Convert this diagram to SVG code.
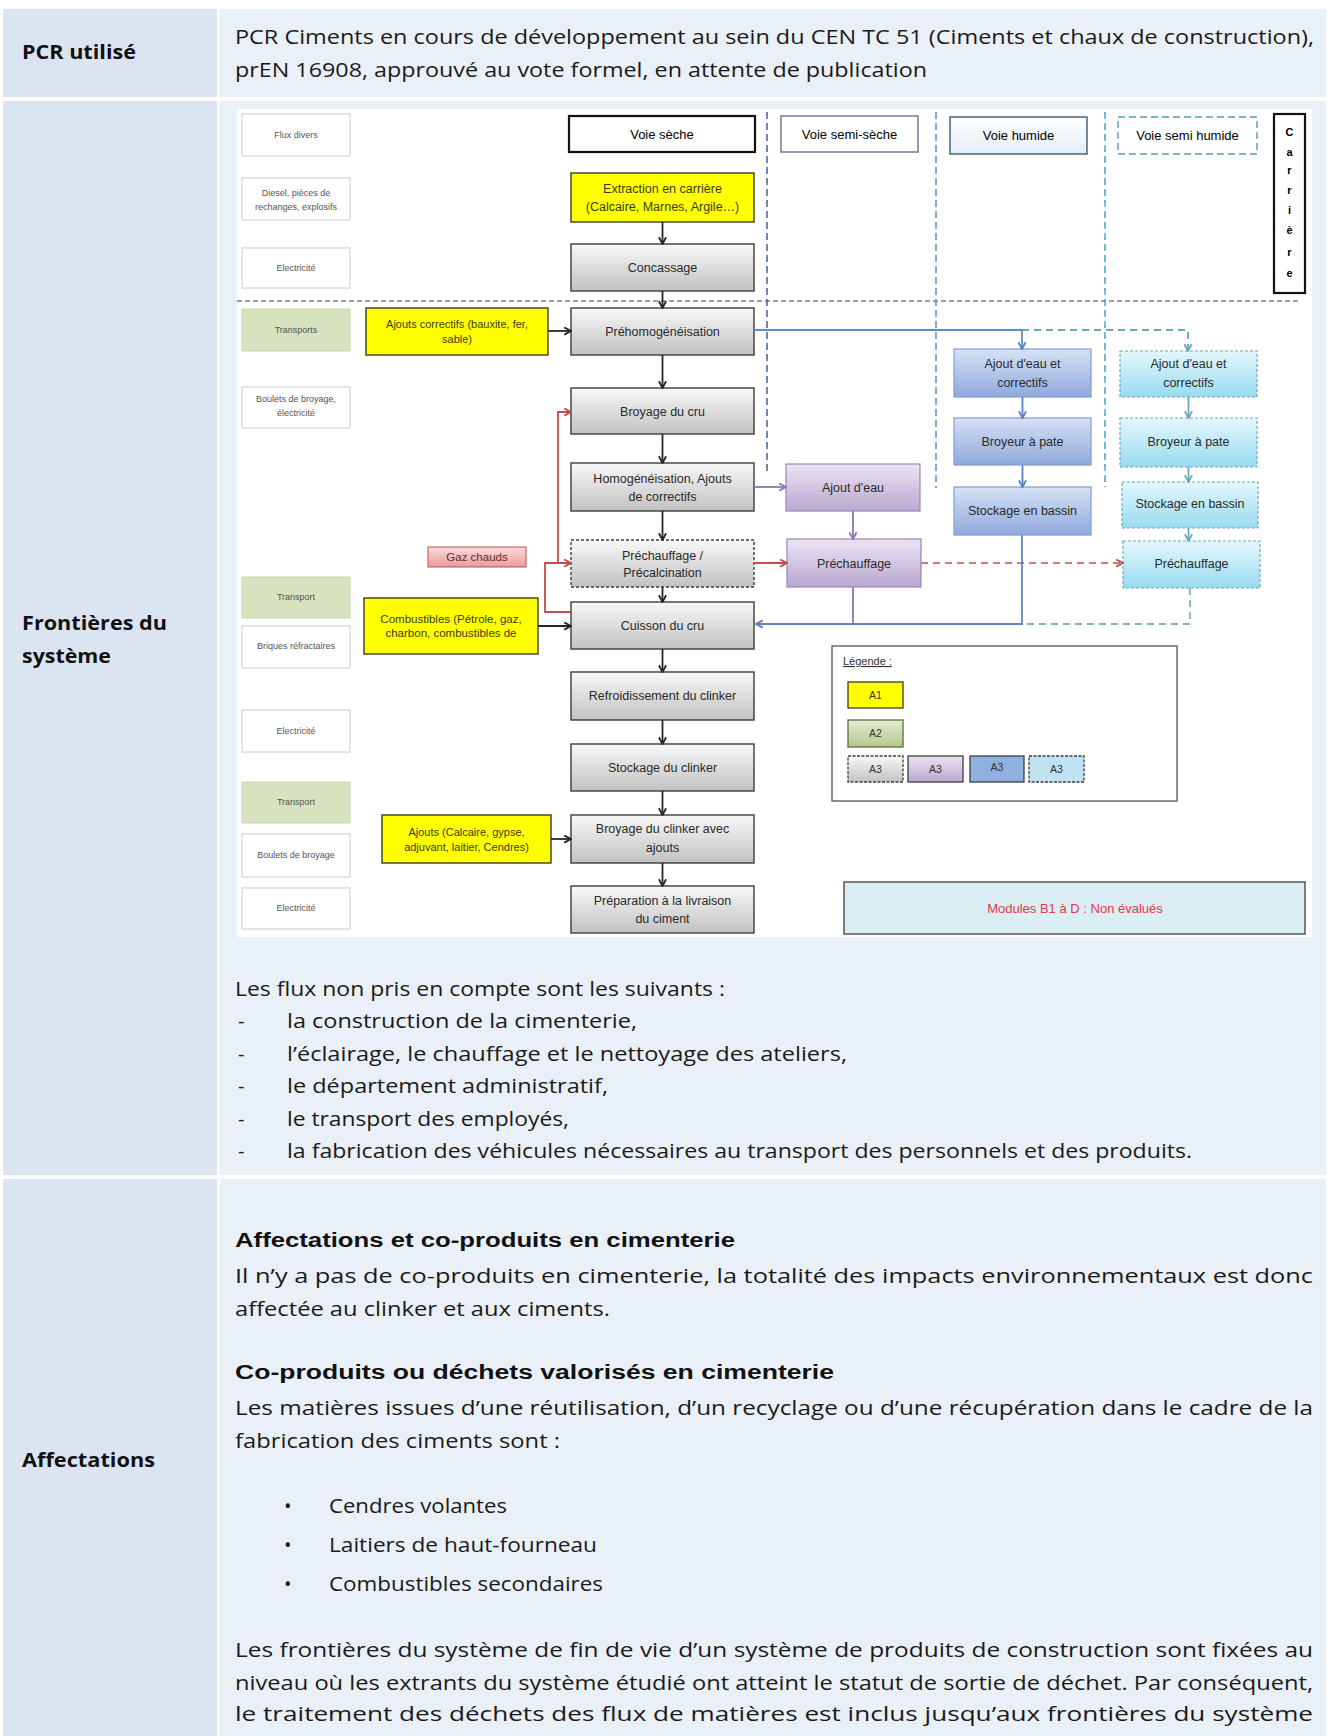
<svg xmlns="http://www.w3.org/2000/svg" width="1330" height="1736" viewBox="0 0 1330 1736">
<defs>
  <linearGradient id="gGrey" x1="0" y1="0" x2="0" y2="1"><stop offset="0" stop-color="#f8f8f8"/><stop offset="1" stop-color="#c2c2c2"/></linearGradient>
  <linearGradient id="gPurple" x1="0" y1="0" x2="0" y2="1"><stop offset="0" stop-color="#ece4f4"/><stop offset="1" stop-color="#b9a7d1"/></linearGradient>
  <linearGradient id="gBlue" x1="0" y1="0" x2="0" y2="1"><stop offset="0" stop-color="#d6e1f6"/><stop offset="1" stop-color="#8fa9dc"/></linearGradient>
  <linearGradient id="gCyan" x1="0" y1="0" x2="0" y2="1"><stop offset="0" stop-color="#e4f7fd"/><stop offset="1" stop-color="#98dbf0"/></linearGradient>
  <linearGradient id="gPink" x1="0" y1="0" x2="0" y2="1"><stop offset="0" stop-color="#fbdcdc"/><stop offset="1" stop-color="#e79c9c"/></linearGradient>
  <linearGradient id="gGreen" x1="0" y1="0" x2="0" y2="1"><stop offset="0" stop-color="#e2ecd0"/><stop offset="1" stop-color="#b4c98d"/></linearGradient>
  <linearGradient id="gHum" x1="0" y1="0" x2="0" y2="1"><stop offset="0" stop-color="#ffffff"/><stop offset="1" stop-color="#e4edf8"/></linearGradient>
  <marker id="aBlack" viewBox="0 0 10 10" refX="9" refY="5" markerWidth="9" markerHeight="9" markerUnits="userSpaceOnUse" orient="auto"><path d="M1.5,1 L9,5 L1.5,9" fill="none" stroke="#262626" stroke-width="2"/></marker>
  <marker id="aRed" viewBox="0 0 10 10" refX="9" refY="5" markerWidth="9" markerHeight="9" markerUnits="userSpaceOnUse" orient="auto"><path d="M1.5,1 L9,5 L1.5,9" fill="none" stroke="#c0504d" stroke-width="2"/></marker>
  <marker id="aPurple" viewBox="0 0 10 10" refX="9" refY="5" markerWidth="9" markerHeight="9" markerUnits="userSpaceOnUse" orient="auto"><path d="M1.5,1 L9,5 L1.5,9" fill="none" stroke="#8a79b3" stroke-width="2"/></marker>
  <marker id="aBlue" viewBox="0 0 10 10" refX="9" refY="5" markerWidth="9" markerHeight="9" markerUnits="userSpaceOnUse" orient="auto"><path d="M1.5,1 L9,5 L1.5,9" fill="none" stroke="#5b84c4" stroke-width="2"/></marker>
  <marker id="aCyan" viewBox="0 0 10 10" refX="9" refY="5" markerWidth="9" markerHeight="9" markerUnits="userSpaceOnUse" orient="auto"><path d="M1.5,1 L9,5 L1.5,9" fill="none" stroke="#6aa8bd" stroke-width="2"/></marker>
  <marker id="aMix" viewBox="0 0 10 10" refX="9" refY="5" markerWidth="9" markerHeight="9" markerUnits="userSpaceOnUse" orient="auto"><path d="M1.5,1 L9,5 L1.5,9" fill="none" stroke="#6f6fb8" stroke-width="2"/></marker>
</defs>
<style>
  .lc{fill:#dbe5f1}
  .rc{fill:#eaf0f8}
  .lbl{font-family:"Open Sans","Liberation Sans",sans-serif;font-weight:bold;font-size:19px;fill:#111}
  .body{font-family:"Open Sans","Liberation Sans",sans-serif;font-size:20px;fill:#1a1a1a}
  .h{font-family:"Liberation Sans",Arial,sans-serif;font-weight:bold;font-size:20px;fill:#111}
  .mb{fill:url(#gGrey);stroke:#3c3c3c;stroke-width:1.4}
  .yel{fill:#ffff00;stroke:#3c3c20;stroke-width:1.4}
  .pur{fill:url(#gPurple);stroke:#9a86b8;stroke-width:1.2}
  .blu{fill:url(#gBlue);stroke:#7f9bd0;stroke-width:1.2}
  .cya{fill:url(#gCyan);stroke:#6aa8bd;stroke-width:1.2;stroke-dasharray:3 2}
  .sm{fill:#ffffff;stroke:#c9c9c9;stroke-width:1}
  .smg{fill:#d7e3bf;stroke:#c9d3b5;stroke-width:1}
  .t{font-family:"Liberation Sans",Arial,sans-serif;font-size:12.5px;fill:#2a2a2a;text-anchor:middle}
  .tv{font-family:"Liberation Sans",Arial,sans-serif;font-size:13px;fill:#000;text-anchor:middle}
  .ty{font-family:"Liberation Sans",Arial,sans-serif;font-size:11px;fill:#3a3a10;text-anchor:middle}
  .ts{font-family:"Liberation Sans",Arial,sans-serif;font-size:9px;fill:#555;text-anchor:middle}
  .tl{font-family:"Liberation Sans",Arial,sans-serif;font-size:10.5px;fill:#333;text-anchor:middle}
  .blk{stroke:#262626;stroke-width:1.8;fill:none;marker-end:url(#aBlack)}
</style>

<!-- table -->
<g id="table">
  <rect class="lc" x="3" y="9" width="214" height="88"/>
  <rect class="rc" x="220" y="9" width="1106" height="88"/>
  <rect class="lc" x="3" y="101" width="214" height="1074"/>
  <rect class="rc" x="220" y="101" width="1106" height="1074"/>
  <rect class="lc" x="3" y="1179" width="214" height="557"/>
  <rect class="rc" x="220" y="1179" width="1106" height="557"/>
</g>

<g id="row1">
  <text class="lbl" x="22" y="59" textLength="114" lengthAdjust="spacingAndGlyphs">PCR utilisé</text>
  <text class="body" x="235" y="44" textLength="1079" lengthAdjust="spacingAndGlyphs">PCR Ciments en cours de développement au sein du  CEN TC 51 (Ciments et chaux de construction),</text>
  <text class="body" x="235" y="77" textLength="692" lengthAdjust="spacingAndGlyphs">prEN 16908, approuvé au vote formel, en attente de publication</text>
</g>

<g id="row2-label">
  <text class="lbl" x="22" y="630" textLength="145" lengthAdjust="spacingAndGlyphs">Frontières du</text>
  <text class="lbl" x="22" y="663" textLength="89" lengthAdjust="spacingAndGlyphs">système</text>
</g>

<!-- diagram background -->
<rect x="237" y="109" width="1075" height="828" fill="#ffffff"/>

<!-- separators -->
<g id="separators" fill="none">
  <line x1="237" y1="301" x2="1298" y2="301" stroke="#404040" stroke-width="1.2" stroke-dasharray="5 3"/>
  <line x1="767" y1="112" x2="767" y2="475" stroke="#50699a" stroke-width="1.6" stroke-dasharray="7 4"/>
  <line x1="936" y1="112" x2="936" y2="488" stroke="#5b9bd5" stroke-width="1.6" stroke-dasharray="7 4"/>
  <line x1="1105" y1="112" x2="1105" y2="487" stroke="#4bacc6" stroke-width="1.6" stroke-dasharray="7 4"/>
</g>

<!-- column headers -->
<g id="voie-seche"><rect x="569" y="116" width="186" height="36" fill="#fff" stroke="#111" stroke-width="2.2"/><text class="tv" x="662" y="139">Voie sèche</text></g>
<g id="voie-semi-seche"><rect x="781" y="116" width="137" height="36" fill="#fff" stroke="#8a7aa8" stroke-width="1.6"/><text class="tv" x="849.5" y="139">Voie semi-sèche</text></g>
<g id="voie-humide"><rect x="950" y="117" width="137" height="37" fill="url(#gHum)" stroke="#4f6d8a" stroke-width="1.6"/><text class="tv" x="1018.5" y="140">Voie humide</text></g>
<g id="voie-semi-humide"><rect x="1118" y="117" width="139" height="37" fill="#fff" stroke="#5a9ab0" stroke-width="1.4" stroke-dasharray="7 4"/><text class="tv" x="1187.5" y="140">Voie semi humide</text></g>
<g id="carriere"><rect x="1274" y="114" width="31" height="179" fill="#fff" stroke="#111" stroke-width="2.2"/>
  <g class="tv" style="font-size:11px;font-weight:bold">
    <text x="1289.5" y="136">C</text><text x="1289.5" y="156">a</text><text x="1289.5" y="174">r</text><text x="1289.5" y="194">r</text><text x="1289.5" y="214">i</text><text x="1289.5" y="234">è</text><text x="1289.5" y="256">r</text><text x="1289.5" y="277">e</text>
  </g>
</g>

<!-- left flux boxes -->
<g id="flux-divers"><rect class="sm" x="242" y="114" width="108" height="42"/><text class="ts" x="296" y="138">Flux divers</text></g>
<g id="flux-diesel"><rect class="sm" x="242" y="178" width="108" height="42"/><text class="ts" x="296" y="196">Diesel, pièces de</text><text class="ts" x="296" y="210">rechanges, explosifs</text></g>
<g id="flux-elec1"><rect class="sm" x="242" y="248" width="108" height="40"/><text class="ts" x="296" y="271">Electricité</text></g>
<g id="flux-transports"><rect class="smg" x="242" y="309" width="108" height="42"/><text class="ts" x="296" y="333">Transports</text></g>
<g id="flux-boulets1"><rect class="sm" x="242" y="387" width="108" height="41"/><text class="ts" x="296" y="402">Boulets de broyage,</text><text class="ts" x="296" y="416">électricité</text></g>
<g id="flux-transport2"><rect class="smg" x="242" y="577" width="108" height="41"/><text class="ts" x="296" y="600">Transport</text></g>
<g id="flux-briques"><rect class="sm" x="242" y="626" width="108" height="42"/><text class="ts" x="296" y="649">Briques réfractaires</text></g>
<g id="flux-elec2"><rect class="sm" x="242" y="710" width="108" height="42"/><text class="ts" x="296" y="734">Electricité</text></g>
<g id="flux-transport3"><rect class="smg" x="242" y="782" width="108" height="41"/><text class="ts" x="296" y="805">Transport</text></g>
<g id="flux-boulets2"><rect class="sm" x="242" y="834" width="108" height="43"/><text class="ts" x="296" y="858">Boulets de broyage</text></g>
<g id="flux-elec3"><rect class="sm" x="242" y="888" width="108" height="41"/><text class="ts" x="296" y="911">Electricité</text></g>

<!-- yellow inputs -->
<g id="ajouts-correctifs"><rect class="yel" x="366" y="308" width="182" height="47"/><text class="ty" x="457" y="328">Ajouts correctifs (bauxite, fer,</text><text class="ty" x="457" y="343">sable)</text></g>
<g id="combustibles"><rect class="yel" x="364" y="598" width="174" height="56"/><text class="ty" x="451" y="623" style="font-size:11.5px">Combustibles (Pétrole, gaz,</text><text class="ty" x="451" y="637" style="font-size:11.5px">charbon, combustibles de</text></g>
<g id="ajouts"><rect class="yel" x="382" y="815" width="169" height="48"/><text class="ty" x="466.5" y="836">Ajouts (Calcaire, gypse,</text><text class="ty" x="466.5" y="851">adjuvant, laitier, Cendres)</text></g>
<g id="gaz-chauds"><rect x="428" y="547" width="98" height="20" fill="url(#gPink)" stroke="#c0504d" stroke-width="1"/><text class="ty" x="477" y="561" style="fill:#6a2a2a;font-size:11.5px">Gaz chauds</text></g>

<!-- main column -->
<g id="extraction"><rect class="yel" x="571" y="173" width="183" height="49"/><text class="t" x="662.5" y="193" style="fill:#3a3a10">Extraction en carrière</text><text class="t" x="662.5" y="211" style="fill:#3a3a10">(Calcaire, Marnes, Argile…)</text></g>
<g id="concassage"><rect class="mb" x="571" y="244" width="183" height="47"/><text class="t" x="662.5" y="272">Concassage</text></g>
<g id="prehomogeneisation"><rect class="mb" x="571" y="308" width="183" height="47"/><text class="t" x="662.5" y="336">Préhomogénéisation</text></g>
<g id="broyage-cru"><rect class="mb" x="571" y="388" width="183" height="46"/><text class="t" x="662.5" y="416">Broyage du cru</text></g>
<g id="homogeneisation"><rect class="mb" x="571" y="463" width="183" height="48"/><text class="t" x="662.5" y="483">Homogénéisation, Ajouts</text><text class="t" x="662.5" y="501">de correctifs</text></g>
<g id="precalcination"><rect class="mb" x="571" y="540" width="183" height="47" style="stroke-dasharray:3 2"/><text class="t" x="662.5" y="560">Préchauffage /</text><text class="t" x="662.5" y="577">Précalcination</text></g>
<g id="cuisson"><rect class="mb" x="571" y="602" width="183" height="47"/><text class="t" x="662.5" y="630">Cuisson du cru</text></g>
<g id="refroidissement"><rect class="mb" x="571" y="672" width="183" height="48"/><text class="t" x="662.5" y="700">Refroidissement du clinker</text></g>
<g id="stockage-clinker"><rect class="mb" x="571" y="744" width="183" height="47"/><text class="t" x="662.5" y="772">Stockage du clinker</text></g>
<g id="broyage-clinker"><rect class="mb" x="571" y="815" width="183" height="48"/><text class="t" x="662.5" y="833">Broyage du clinker avec</text><text class="t" x="662.5" y="852">ajouts</text></g>
<g id="preparation"><rect class="mb" x="571" y="886" width="183" height="47"/><text class="t" x="662.5" y="905">Préparation à la livraison</text><text class="t" x="662.5" y="923">du ciment</text></g>

<!-- semi-sèche -->
<g id="ss-ajout-eau"><rect class="pur" x="786" y="464" width="134" height="47"/><text class="t" x="853" y="492">Ajout d'eau</text></g>
<g id="ss-prechauffage"><rect class="pur" x="787" y="539" width="134" height="48"/><text class="t" x="854" y="568">Préchauffage</text></g>

<!-- humide -->
<g id="h-ajout"><rect class="blu" x="954" y="349" width="137" height="48"/><text class="t" x="1022.5" y="368">Ajout d'eau et</text><text class="t" x="1022.5" y="387">correctifs</text></g>
<g id="h-broyeur"><rect class="blu" x="954" y="418" width="137" height="47"/><text class="t" x="1022.5" y="446">Broyeur à pate</text></g>
<g id="h-stockage"><rect class="blu" x="954" y="487" width="137" height="48"/><text class="t" x="1022.5" y="515">Stockage en bassin</text></g>

<!-- semi humide -->
<g id="sh-ajout"><rect class="cya" x="1120" y="351" width="137" height="46"/><text class="t" x="1188.5" y="368">Ajout d'eau  et</text><text class="t" x="1188.5" y="387">correctifs</text></g>
<g id="sh-broyeur"><rect class="cya" x="1120" y="418" width="137" height="49"/><text class="t" x="1188.5" y="446">Broyeur à pate</text></g>
<g id="sh-stockage"><rect class="cya" x="1122" y="482" width="136" height="46"/><text class="t" x="1190" y="508">Stockage en bassin</text></g>
<g id="sh-prechauffage"><rect class="cya" x="1123" y="541" width="137" height="47"/><text class="t" x="1191.5" y="568">Préchauffage</text></g>

<!-- legend -->
<g id="legende">
  <rect x="832" y="646" width="345" height="155" fill="#fff" stroke="#555" stroke-width="1.3"/>
  <text class="tl" x="843" y="665" style="text-anchor:start;text-decoration:underline;font-size:11px">Légende :</text>
  <rect x="848" y="682" width="55" height="26" fill="#ffff00" stroke="#3c3c20" stroke-width="1.3"/><text class="tl" x="875.5" y="699">A1</text>
  <rect x="848" y="720" width="55" height="27" fill="url(#gGreen)" stroke="#5a6a40" stroke-width="1.3"/><text class="tl" x="875.5" y="737">A2</text>
  <rect x="848" y="756" width="55" height="26" fill="url(#gGrey)" stroke="#3c3c3c" stroke-width="1.3" stroke-dasharray="3 1.5"/><text class="tl" x="875.5" y="773">A3</text>
  <rect x="908" y="756" width="55" height="26" fill="url(#gPurple)" stroke="#3c3c3c" stroke-width="1.3"/><text class="tl" x="935.5" y="773">A3</text>
  <rect x="970" y="756" width="54" height="26" fill="#8fb0e0" stroke="#3c3c3c" stroke-width="1.3"/><text class="tl" x="997" y="771">A3</text>
  <rect x="1029" y="756" width="55" height="26" fill="#bfe3f0" stroke="#3c3c3c" stroke-width="1.3" stroke-dasharray="3 1.5"/><text class="tl" x="1056.5" y="773">A3</text>
</g>
<g id="modules"><rect x="844" y="882" width="461" height="52" fill="#daeef3" stroke="#555" stroke-width="1.5"/><text class="t" x="1075" y="913" style="fill:#e5344c;font-size:13px">Modules B1 à D : Non évalués</text></g>

<!-- connectors -->
<g id="connectors">
  <line class="blk" x1="662.5" y1="222" x2="662.5" y2="244"/>
  <line class="blk" x1="662.5" y1="291" x2="662.5" y2="308"/>
  <line class="blk" x1="662.5" y1="355" x2="662.5" y2="388"/>
  <line class="blk" x1="662.5" y1="434" x2="662.5" y2="463"/>
  <line class="blk" x1="662.5" y1="511" x2="662.5" y2="540"/>
  <line class="blk" x1="662.5" y1="587" x2="662.5" y2="602"/>
  <line class="blk" x1="662.5" y1="649" x2="662.5" y2="672"/>
  <line class="blk" x1="662.5" y1="720" x2="662.5" y2="744"/>
  <line class="blk" x1="662.5" y1="791" x2="662.5" y2="815"/>
  <line class="blk" x1="662.5" y1="863" x2="662.5" y2="886"/>
  <line class="blk" x1="548" y1="331" x2="571" y2="331"/>
  <line class="blk" x1="538" y1="626" x2="571" y2="626"/>
  <line class="blk" x1="551" y1="839" x2="571" y2="839"/>
  <path d="M571,612 H545 V563 H571" fill="none" stroke="#c0504d" stroke-width="1.8" marker-end="url(#aRed)"/>
  <path d="M558,563 V412 H571" fill="none" stroke="#c0504d" stroke-width="1.8" marker-end="url(#aRed)"/>
  <line x1="754" y1="563" x2="787" y2="563" stroke="#c0504d" stroke-width="1.8" marker-end="url(#aRed)"/>
  <line x1="921" y1="563" x2="1123" y2="563" stroke="#d07a78" stroke-width="1.8" stroke-dasharray="7 5" marker-end="url(#aRed)"/>
  <line x1="754" y1="487" x2="786" y2="487" stroke="#8a79b3" stroke-width="1.8" marker-end="url(#aPurple)"/>
  <line x1="853" y1="511" x2="853" y2="539" stroke="#8a79b3" stroke-width="1.8" marker-end="url(#aPurple)"/>
  <line x1="853" y1="587" x2="853" y2="624" stroke="#8a79b3" stroke-width="1.8"/>
  <path d="M754,330 H1022 V349" fill="none" stroke="#5b8fc7" stroke-width="1.8" marker-end="url(#aBlue)"/>
  <line x1="1022.5" y1="397" x2="1022.5" y2="418" stroke="#5b84c4" stroke-width="1.8" marker-end="url(#aBlue)"/>
  <line x1="1022.5" y1="465" x2="1022.5" y2="487" stroke="#5b84c4" stroke-width="1.8" marker-end="url(#aBlue)"/>
  <path d="M1022,535 V624 H756" fill="none" stroke="#5f86c0" stroke-width="1.8" marker-end="url(#aMix)"/>
  <path d="M1022,330 H1188 V351" fill="none" stroke="#6aa8bd" stroke-width="1.8" stroke-dasharray="7 5" marker-end="url(#aCyan)"/>
  <line x1="1188.5" y1="397" x2="1188.5" y2="418" stroke="#6aa8bd" stroke-width="1.8" marker-end="url(#aCyan)"/>
  <line x1="1188.5" y1="467" x2="1188.5" y2="482" stroke="#6aa8bd" stroke-width="1.8" marker-end="url(#aCyan)"/>
  <line x1="1188.5" y1="528" x2="1188.5" y2="541" stroke="#6aa8bd" stroke-width="1.8" marker-end="url(#aCyan)"/>
  <path d="M1190,588 V624 H1026" fill="none" stroke="#7fb3c5" stroke-width="1.8" stroke-dasharray="7 5"/>
</g>

<!-- row 2 text below diagram -->
<g id="flux-non-pris">
  <text class="body" x="235" y="996" textLength="490" lengthAdjust="spacingAndGlyphs">Les flux non pris en compte sont les suivants :</text>
  <text class="body" x="238" y="1028">-</text><text class="body" x="287" y="1028" textLength="350" lengthAdjust="spacingAndGlyphs">la construction de la cimenterie,</text>
  <text class="body" x="238" y="1061">-</text><text class="body" x="287" y="1061" textLength="560" lengthAdjust="spacingAndGlyphs">l’éclairage, le chauffage et le nettoyage des ateliers,</text>
  <text class="body" x="238" y="1093">-</text><text class="body" x="287" y="1093" textLength="321" lengthAdjust="spacingAndGlyphs">le département administratif,</text>
  <text class="body" x="238" y="1126">-</text><text class="body" x="287" y="1126" textLength="282" lengthAdjust="spacingAndGlyphs">le transport des employés,</text>
  <text class="body" x="238" y="1158">-</text><text class="body" x="287" y="1158" textLength="905" lengthAdjust="spacingAndGlyphs">la fabrication des véhicules nécessaires au transport des personnels et des produits.</text>
</g>

<!-- row 3 -->
<g id="row3">
  <text class="lbl" x="22" y="1467" textLength="133" lengthAdjust="spacingAndGlyphs">Affectations</text>
  <text class="h" x="235" y="1247" textLength="500" lengthAdjust="spacingAndGlyphs">Affectations et co-produits en cimenterie</text>
  <text class="body" x="235" y="1283" textLength="1078" lengthAdjust="spacingAndGlyphs">Il n’y a pas de co-produits en cimenterie, la totalité des impacts environnementaux est donc</text>
  <text class="body" x="235" y="1316" textLength="375" lengthAdjust="spacingAndGlyphs">affectée au clinker et aux ciments.</text>
  <text class="h" x="235" y="1379" textLength="599" lengthAdjust="spacingAndGlyphs">Co-produits ou déchets valorisés en cimenterie</text>
  <text class="body" x="235" y="1415" textLength="1078" lengthAdjust="spacingAndGlyphs">Les matières issues d’une réutilisation, d’un recyclage ou d’une récupération dans le cadre de la</text>
  <text class="body" x="235" y="1448" textLength="325" lengthAdjust="spacingAndGlyphs">fabrication des ciments sont :</text>
  <text class="body" x="284" y="1513">•</text><text class="body" x="329" y="1513" textLength="178" lengthAdjust="spacingAndGlyphs">Cendres volantes</text>
  <text class="body" x="284" y="1552">•</text><text class="body" x="329" y="1552" textLength="268" lengthAdjust="spacingAndGlyphs">Laitiers de haut-fourneau</text>
  <text class="body" x="284" y="1591">•</text><text class="body" x="329" y="1591" textLength="274" lengthAdjust="spacingAndGlyphs">Combustibles secondaires</text>
  <text class="body" x="235" y="1657" textLength="1078" lengthAdjust="spacingAndGlyphs">Les frontières du système de fin de vie d’un système de produits de construction sont fixées au</text>
  <text class="body" x="235" y="1690" textLength="1078" lengthAdjust="spacingAndGlyphs">niveau où les extrants du système étudié ont atteint le statut de sortie de déchet. Par conséquent,</text>
  <text class="body" x="235" y="1721" textLength="1078" lengthAdjust="spacingAndGlyphs">le traitement des déchets des flux de matières est inclus jusqu’aux frontières du système</text>
</g>
</svg>
